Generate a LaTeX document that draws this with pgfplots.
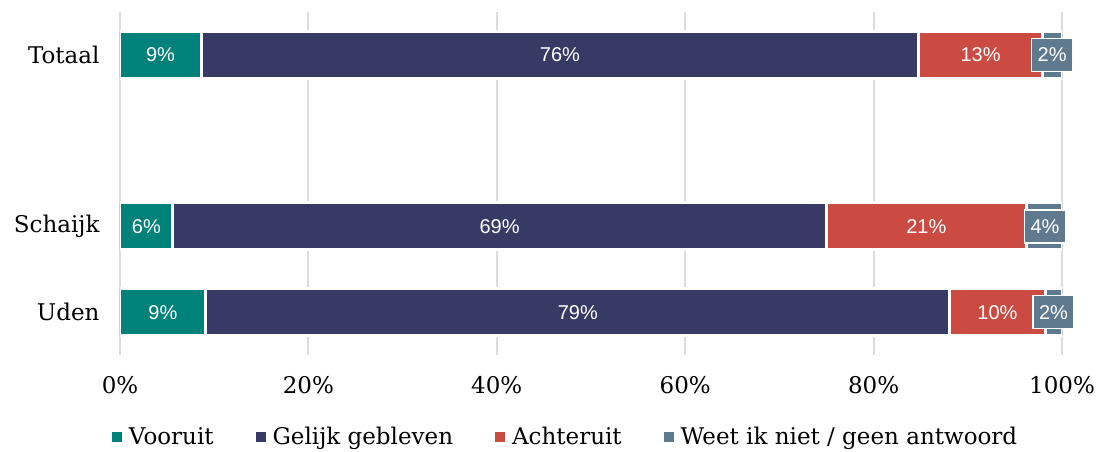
\documentclass[border=0pt]{standalone}
\usepackage{pgfplots}
\pgfplotsset{compat=1.18}
\usepackage{fontspec}
\setmainfont{DejaVu Serif}
\newfontfamily\lab{Liberation Sans}
\definecolor{cA}{HTML}{00827A}
\definecolor{cB}{HTML}{383A66}
\definecolor{cC}{HTML}{CB4B42}
\definecolor{cD}{HTML}{5F7A8F}
\definecolor{gridc}{HTML}{DCDCDC}
\begin{document}
\begin{tikzpicture}[x=1pt,y=1pt]
\path[use as bounding box] (0,0) rectangle (1098,452);
\begin{axis}[
  at={(120pt,97pt)}, anchor=south west,
  scale only axis, width=942pt, height=343pt,
  xbar stacked, bar width=0.547,
  xmin=0, xmax=100, ymin=-0.5, ymax=3.5,
  ytick={0,1,3}, yticklabels={Uden,Schaijk,Totaal},
  xtick={0,20,40,60,80,100},
  xticklabel={\pgfmathprintnumber{\tick}\%},
  /pgf/number format/assume math mode=true,
  axis line style={draw=none},
  major tick length=0pt,
  xmajorgrids, grid style={line width=2pt, color=gridc},
  tick label style={font=\fontsize{23}{27}\selectfont},
  xticklabel style={yshift=-18pt},
  yticklabel style={xshift=-17pt},
  legend style={at={(0.473,-0.239)}, anchor=center, draw=none, fill=none,
    legend columns=4, font=\fontsize{23}{27}\selectfont,
    /tikz/every even column/.append style={column sep=40pt}},
  legend image code/.code={\fill[#1, draw=none] (0pt,-5pt) rectangle (10pt,5pt); \path[draw=none, fill=none] (0pt,0pt) -- (15pt,0pt);},
]
\addplot[fill=cA, draw=white, line width=3pt] coordinates {(8.6,3) (5.6,1) (9.1,0)};
\addplot[fill=cB, draw=white, line width=3pt] coordinates {(76.2,3) (69.4,1) (79.0,0)};
\addplot[fill=cC, draw=white, line width=3pt] coordinates {(13.1,3) (21.2,1) (10.1,0)};
\addplot[fill=cD, draw=white, line width=3pt] coordinates {(2.1,3) (3.8,1) (1.8,0)};
\legend{Vooruit, Gelijk gebleven, Achteruit, Weet ik niet / geen antwoord}
\end{axis}
\begin{axis}[
  at={(120pt,97pt)}, anchor=south west,
  scale only axis, width=942pt, height=343pt,
  xmin=0, xmax=100, ymin=-0.5, ymax=3.5,
  hide axis, clip=false,
]
\addplot[only marks, mark=*, mark size=0pt, mark options={draw=none},
  nodes near coords={\pgfplotspointmeta\%}, point meta=explicit symbolic,
  every node near coord/.append style={anchor=center, text=white, font=\lab\fontsize{20}{22}\selectfont}]
  coordinates {(4.3,3)[9] (2.8,1)[6] (4.55,0)[9]
               (46.7,3)[76] (40.3,1)[69] (48.6,0)[79]
               (91.35,3)[13] (85.6,1)[21] (93.15,0)[10]};
\addplot[only marks, mark=*, mark size=0pt, mark options={draw=none},
  nodes near coords={\pgfplotspointmeta\%}, point meta=explicit symbolic,
  every node near coord/.append style={anchor=center, text=white, fill=cD, draw=white, line width=1.5pt,
    inner xsep=6pt, minimum height=33pt, font=\lab\fontsize{20}{22}\selectfont}]
  coordinates {(98.95,3)[2] (98.2,1)[4] (99.1,0)[2]};
\end{axis}
\end{tikzpicture}
\end{document}
